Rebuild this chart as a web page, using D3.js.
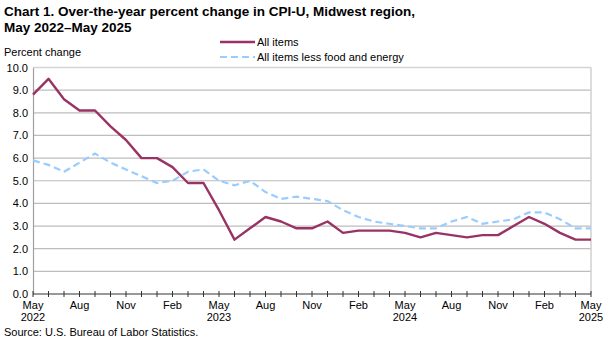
<!DOCTYPE html>
<html><head><meta charset="utf-8">
<script src="https://cdn.jsdelivr.net/npm/d3@7"></script>
<style>body{margin:0;background:#fff}svg{display:block;font-family:"Liberation Sans",Arial,sans-serif}</style>
</head><body><svg id="c" width="612" height="342"></svg>
<script>
const months = ["May","Jun","Jul","Aug","Sep","Oct","Nov","Dec","Jan","Feb","Mar","Apr",
"May","Jun","Jul","Aug","Sep","Oct","Nov","Dec","Jan","Feb","Mar","Apr",
"May","Jun","Jul","Aug","Sep","Oct","Nov","Dec","Jan","Feb","Mar","Apr","May"];
const years = {0:"2022",12:"2023",24:"2024",36:"2025"};
const allItems = [8.8,9.5,8.6,8.1,8.1,7.4,6.8,6.0,6.0,5.6,4.9,4.9,
3.7,2.4,2.9,3.4,3.2,2.9,2.9,3.2,2.7,2.8,2.8,2.8,
2.7,2.5,2.7,2.6,2.5,2.6,2.6,3.0,3.4,3.1,2.7,2.4,2.4];
const core = [5.9,5.7,5.4,5.8,6.2,5.8,5.5,5.2,4.9,5.0,5.4,5.5,
5.0,4.8,5.0,4.5,4.2,4.3,4.2,4.1,3.7,3.4,3.2,3.1,
3.0,2.9,2.9,3.2,3.4,3.1,3.2,3.3,3.6,3.6,3.3,2.9,2.9];
const yTicks = [0,1,2,3,4,5,6,7,8,9,10];

const svg = d3.select("#c");
const L=33,R=591,T=67.5,B=294;
const x = d3.scaleLinear().domain([0,36]).range([L,R]);
const y = d3.scaleLinear().domain([0,10]).range([B,T]);

// title
const title = svg.append("g").attr("font-weight","bold").attr("font-size",13.5).attr("fill","#000");
title.append("text").attr("x",4).attr("y",16).text("Chart 1. Over-the-year percent change in CPI-U, Midwest region,");
title.append("text").attr("x",4).attr("y",32).text("May 2022\u2013May 2025");
svg.append("text").attr("x",4).attr("y",56).attr("font-size",11).text("Percent change");

// gridlines
svg.append("g").selectAll("line").data(yTicks.filter(d=>d>0)).join("line")
 .attr("x1",L).attr("x2",R).attr("y1",d=>y(d)).attr("y2",d=>y(d))
 .attr("stroke",d=>d===10?"#d4d4d4":"#bdbdbd").attr("stroke-width",d=>d===10?1.5:1.2);
svg.append("line").attr("x1",R).attr("x2",R).attr("y1",T).attr("y2",B).attr("stroke","#d0d0d0").attr("stroke-width",1.5);

// y axis
const ya = svg.append("g").attr("transform",`translate(${L},0)`)
 .call(d3.axisLeft(y).tickValues(yTicks).tickSize(0).tickPadding(5).tickFormat(d3.format(".1f")));
ya.select(".domain").attr("stroke","#a0a0a0").attr("stroke-width",1.2);
ya.selectAll("text").attr("font-size",11).attr("font-family","Liberation Sans, Arial").attr("fill","#000");

// x axis
const xa = svg.append("g").attr("transform",`translate(0,${B})`);
xa.append("line").attr("x1",L).attr("x2",R).attr("stroke","#333").attr("stroke-width",1.2);
xa.selectAll(".tk").data(d3.range(37)).join("line").attr("class","tk")
 .attr("x1",d=>x(d)).attr("x2",d=>x(d)).attr("y1",-3).attr("y2",3).attr("stroke","#333").attr("stroke-width",1);
const lbl = xa.selectAll(".lb").data(d3.range(0,37,3)).join("text").attr("class","lb")
 .attr("x",d=>x(d)).attr("y",15).attr("text-anchor","middle").attr("font-size",11).attr("fill","#000")
 .text(d=>months[d]);
xa.selectAll(".yr").data(Object.keys(years).map(Number)).join("text").attr("class","yr")
 .attr("x",d=>x(d)).attr("y",27).attr("text-anchor","middle").attr("font-size",11).attr("fill","#000")
 .text(d=>years[d]);

// lines
const line = d3.line().x((d,i)=>x(i)).y(d=>y(d));
svg.append("path").datum(core).attr("d",line).attr("fill","none").attr("stroke","#99ccff")
 .attr("stroke-width",2.2).attr("stroke-dasharray","7,4");
svg.append("path").datum(allItems).attr("d",line).attr("fill","none").attr("stroke","#993366")
 .attr("stroke-width",2.4).attr("stroke-linejoin","round");

// legend
const lg = svg.append("g");
lg.append("line").attr("x1",220).attr("x2",255).attr("y1",42).attr("y2",42).attr("stroke","#993366").attr("stroke-width",2.4);
lg.append("line").attr("x1",220).attr("x2",255).attr("y1",57).attr("y2",57).attr("stroke","#99ccff").attr("stroke-width",2.2).attr("stroke-dasharray","7,4");
lg.append("text").attr("x",257).attr("y",46).attr("font-size",11).text("All items");
lg.append("text").attr("x",257).attr("y",61).attr("font-size",11).text("All items less food and energy");

svg.append("text").attr("x",4).attr("y",336).attr("font-size",11).text("Source: U.S. Bureau of Labor Statistics.");
</script></body></html>
